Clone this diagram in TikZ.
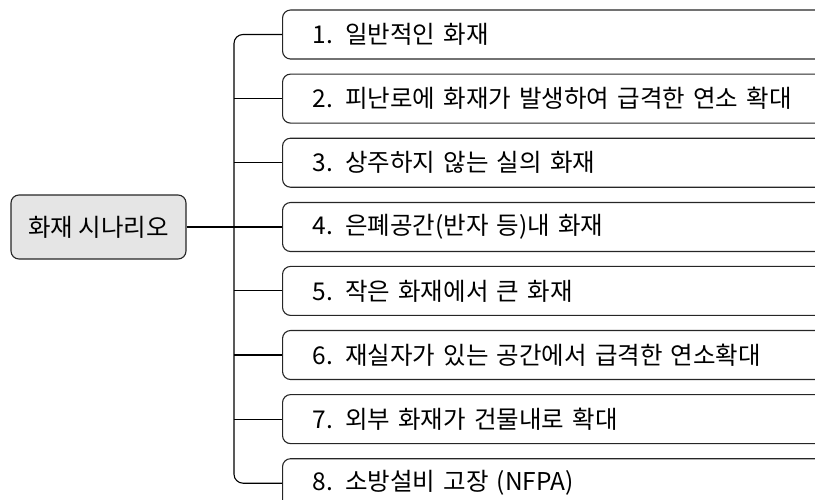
\documentclass[tikz,border=0pt]{standalone}
\usepackage{fontspec}
\setmainfont{Noto Sans CJK KR}
\begin{document}
\begin{tikzpicture}[x=1pt,y=-1pt,
  line width=1.1pt,
  rootbox/.style={draw=black!85, fill=black!10, rounded corners=8pt, minimum width=175pt, minimum height=64pt, inner sep=0pt, font=\fontsize{24.5}{28}\selectfont},
  itembox/.style={draw=black!85, rounded corners=8pt, anchor=west, minimum height=49pt, text width=560pt, inner xsep=30pt, inner ysep=0pt, align=left, font=\fontsize{24.5}{28}\selectfont},
  conn/.style={line width=1.1pt, black}
]
\useasboundingbox (0,0) rectangle (815,499);
\clip (0,0) rectangle (815,499);
\node[rootbox] (root) at (98.5,227) {화재 시나리오};
\node[itembox] (b1) at (282,34.5) {1. 일반적인 화재};
\node[itembox] (b2) at (282,98.6) {2. 피난로에 화재가 발생하여 급격한 연소 확대};
\node[itembox] (b3) at (282,162.7) {3. 상주하지 않는 실의 화재};
\node[itembox] (b4) at (282,227) {4. 은폐공간(반자 등)내 화재};
\node[itembox] (b5) at (282,290.9) {5. 작은 화재에서 큰 화재};
\node[itembox] (b6) at (282,355.0) {6. 재실자가 있는 공간에서 급격한 연소확대};
\node[itembox] (b7) at (282,419.1) {7. 외부 화재가 건물내로 확대};
\node[itembox] (b8) at (282,483.2) {8. 소방설비 고장 (NFPA)};
\coordinate (sp) at (234,227);
\draw[conn, rounded corners=9pt] (b1.west) -| (sp) |- (b8.west);
\draw[conn] (root.east) -- (b4.west);
\foreach \b in {b2,b3,b5,b6,b7}{
  \draw[conn] (\b.west -| sp) -- (\b.west);
}
\end{tikzpicture}
\end{document}
